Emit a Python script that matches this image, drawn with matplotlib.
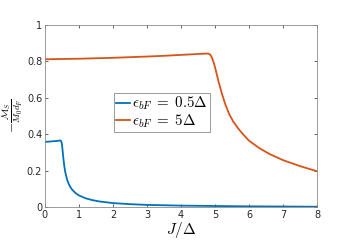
import numpy as np
import matplotlib.pyplot as plt

plt.rcParams['mathtext.fontset'] = 'cm'

# values
J_blue = [0.0, 0.2, 0.4, 0.45, 0.48, 0.5, 0.52, 0.54, 0.57, 0.6, 0.65, 0.7, 0.75, 0.8,
          0.9, 1.0, 1.2, 1.4, 1.6, 2.0, 2.5, 3.0, 4.0, 5.0, 6.0, 7.0, 8.0]
M_blue = [0.358, 0.361, 0.364, 0.366, 0.362, 0.345, 0.31, 0.272, 0.225, 0.19, 0.152,
          0.127, 0.109, 0.096, 0.077, 0.064, 0.048, 0.038, 0.031, 0.022, 0.016,
          0.012, 0.008, 0.006, 0.004, 0.003, 0.002]

J_red = [0.0, 1.0, 2.0, 3.0, 3.5, 4.0, 4.5, 4.7, 4.8, 4.86, 4.91, 4.96, 5.0, 5.05,
         5.1, 5.2, 5.3, 5.42, 5.54, 5.7, 5.83, 6.0, 6.32, 6.6, 7.0, 7.5, 8.0]
M_red = [0.812, 0.815, 0.82, 0.827, 0.831, 0.836, 0.841, 0.843, 0.843, 0.838, 0.822,
         0.795, 0.77, 0.732, 0.694, 0.626, 0.567, 0.51, 0.469, 0.428, 0.399, 0.365,
         0.322, 0.292, 0.258, 0.225, 0.197]

labels = [r'$\epsilon_{bF}\;=\;0.5\Delta$', r'$\epsilon_{bF}\;=\;5\Delta$']
colors = ['#0072BD', '#D95319']

fig = plt.figure(figsize=(3.51, 2.48), dpi=100)
ax = fig.add_axes([0.128, 0.165, 0.775, 0.734])
ax.plot(J_blue, M_blue, color=colors[0], lw=1.3, label=labels[0])
ax.plot(J_red, M_red, color=colors[1], lw=1.3, label=labels[1])

ax.set_xlim(0, 8)
ax.set_ylim(0, 1)
ax.set_xticks(range(0, 9))
ax.set_yticks([0, 0.2, 0.4, 0.6, 0.8, 1])
ax.set_yticklabels(['0', '0.2', '0.4', '0.6', '0.8', '1'])
ax.tick_params(direction='in', top=True, right=True, labelsize=7, length=2.5,
               width=0.5, colors='#262626', pad=2)
for s in ax.spines.values():
    s.set_color('#8c8c8c')
    s.set_linewidth(0.6)

ax.set_xlabel(r'$J/\Delta$', fontsize=11, labelpad=0)
ax.set_ylabel(r'$-\frac{\mathcal{M}_S}{M_0 d_F}$', fontsize=9.5, labelpad=1)

leg = ax.legend(loc='center', bbox_to_anchor=(0.43, 0.52), fontsize=10.8,
                fancybox=False, framealpha=1, edgecolor='#8c8c8c',
                handlelength=0.9, handletextpad=0.15, borderpad=0.15,
                labelspacing=0.0, borderaxespad=0)
leg.get_frame().set_linewidth(0.6)

fig.savefig('out.png', dpi=100)
